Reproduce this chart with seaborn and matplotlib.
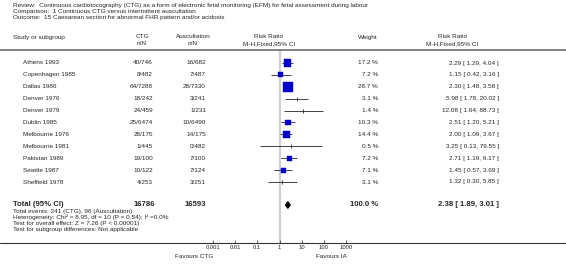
import numpy as np
import pandas as pd
import matplotlib
matplotlib.use("Agg")
import matplotlib.pyplot as plt
import seaborn as sns

# --- DATA ---
studies = ["Athens 1993", "Copenhagen 1985", "Dallas 1986", "Denver 1976", "Denver 1979",
           "Dublin 1985", "Melbourne 1976", "Melbourne 1981", "Pakistan 1989",
           "Seattle 1987", "Sheffield 1978"]
ctg_events = [40, 8, 64, 18, 24, 25, 28, 1, 19, 10, 4]
ctg_total = [746, 482, 7288, 242, 459, 6474, 175, 445, 100, 122, 253]
ia_events = [16, 7, 28, 3, 1, 10, 14, 0, 7, 7, 3]
ia_total = [682, 487, 7330, 241, 231, 6490, 175, 482, 100, 124, 251]
weights = [17.2, 7.2, 28.7, 3.1, 1.4, 10.3, 14.4, 0.5, 7.2, 7.1, 3.1]
rr = [2.29, 1.15, 2.30, 5.98, 12.08, 2.51, 2.00, 3.25, 2.71, 1.45, 1.32]
rr_lo = [1.29, 0.42, 1.48, 1.78, 1.64, 1.20, 1.09, 0.13, 1.19, 0.57, 0.30]
rr_hi = [4.04, 3.16, 3.58, 20.02, 88.73, 5.21, 3.67, 79.55, 6.17, 3.69, 5.85]

total_ctg, total_ia = 16786, 16593
total_rr, total_lo, total_hi = 2.38, 1.89, 3.01
total_weight = 100.0

tick_vals = [0.001, 0.01, 0.1, 1, 10, 100, 1000]
tick_labels = ["0.001", "0.01", "0.1", "1", "10", "100", "1000"]

header_lines = [
    "Review:  Continuous cardiotocography (CTG) as a form of electronic fetal monitoring (EFM) for fetal assessment during labour",
    "Comparison:  1 Continuous CTG versus intermittent auscultation",
    "Outcome:  15 Caesarean section for abnormal FHR pattern and/or acidosis",
]
footer_lines = [
    "Total events: 241 (CTG), 96 (Auscultation)",
    "Heterogeneity: Chi\u00b2 = 8.95, df = 10 (P = 0.54); I\u00b2 =0.0%",
    "Test for overall effect: Z = 7.26 (P < 0.00001)",
    "Test for subgroup differences: Not applicable",
]

# --- LAYOUT (pixels) ---
W, H = 566, 265
ROW0, STEP = 63, 11.9
Y_TOTAL = 205
Y_AXIS = 243
FS = 4.6

sns.set_style("white")
plt.rcParams["font.family"] = ["Liberation Sans", "DejaVu Sans"]

fig = plt.figure(figsize=(W / 100, H / 100), dpi=100)
ax = fig.add_axes([0, 0, 1, 1])
ax.set_xlim(0, W)
ax.set_ylim(H, 0)
ax.axis("off")

# header block
for i, line in enumerate(header_lines):
    ax.text(13, 5 + i * 6, line, fontsize=FS, va="center", ha="left")

ax.text(13, 38, "Study or subgroup", fontsize=FS, va="center")
ax.text(142, 37, "CTG", fontsize=FS, va="center", ha="center")
ax.text(142, 43.5, "n/N", fontsize=FS, va="center", ha="center")
ax.text(193, 37, "Auscultation", fontsize=FS, va="center", ha="center")
ax.text(193, 43.5, "n/N", fontsize=FS, va="center", ha="center")
ax.text(269, 37, "Risk Ratio", fontsize=FS, va="center", ha="center")
ax.text(269, 43.5, "M-H,Fixed,95% CI", fontsize=FS, va="center", ha="center")
ax.text(368, 37, "Weight", fontsize=FS, va="center", ha="center")
ax.text(452, 37, "Risk Ratio", fontsize=FS, va="center", ha="center")
ax.text(452, 43.5, "M-H,Fixed,95% CI", fontsize=FS, va="center", ha="center")
ax.plot([0, W], [50, 50], color="#777777", lw=1.3)

# study rows
for i, name in enumerate(studies):
    y = ROW0 + i * STEP
    ax.text(23, y, name, fontsize=FS, va="center")
    ax.text(153, y, f"{ctg_events[i]}/{ctg_total[i]}", fontsize=FS, va="center", ha="right")
    ax.text(206, y, f"{ia_events[i]}/{ia_total[i]}", fontsize=FS, va="center", ha="right")
    ax.text(378, y, f"{weights[i]:.1f} %", fontsize=FS, va="center", ha="right")
    ax.text(499, y, f"{rr[i]:.2f} [ {rr_lo[i]:.2f}, {rr_hi[i]:.2f} ]",
            fontsize=FS, va="center", ha="right")

# total row
ax.text(13, Y_TOTAL, "Total (95% CI)", fontsize=5.6, fontweight="bold", va="center")
ax.text(155, Y_TOTAL, f"{total_ctg}", fontsize=5.6, fontweight="bold", va="center", ha="right")
ax.text(206, Y_TOTAL, f"{total_ia}", fontsize=5.6, fontweight="bold", va="center", ha="right")
ax.text(378, Y_TOTAL, f"{total_weight:.1f} %", fontsize=5.6, fontweight="bold", va="center", ha="right")
ax.text(499, Y_TOTAL, f"{total_rr:.2f} [ {total_lo:.2f}, {total_hi:.2f} ]",
        fontsize=5.6, fontweight="bold", va="center", ha="right")
for i, line in enumerate(footer_lines):
    ax.text(13, 211.5 + i * 6, line, fontsize=FS, va="center")

ax.plot([0, W], [Y_AXIS, Y_AXIS], color="#333333", lw=0.8)
ax.text(213, 256.5, "Favours CTG", fontsize=FS, va="center", ha="right")
ax.text(347, 256.5, "Favours IA", fontsize=FS, va="center", ha="right")

# --- FOREST PANEL ---
x0, x1 = 213, 346
fax = fig.add_axes([x0 / W, (H - Y_AXIS) / H, (x1 - x0) / W, (Y_AXIS - 51) / H])
fax.patch.set_alpha(0)
fax.set_xscale("log")
fax.set_xlim(0.001, 1000)
fax.set_ylim(Y_AXIS, 51)
for s in fax.spines.values():
    s.set_visible(False)

fax.axvline(1, color="#d0d0d0", lw=1.6, zorder=0)

df = pd.DataFrame({"study": studies, "rr": rr, "lo": rr_lo, "hi": rr_hi, "weight": weights})
df["y"] = ROW0 + np.arange(len(df)) * STEP

fax.hlines(df["y"], df["lo"], df["hi"], color="#222222", lw=0.6, zorder=2)

big = df[df["weight"] >= 5]
small = df[df["weight"] < 5]
sns.scatterplot(data=big, x="rr", y="y", size="weight", sizes=(0, 52), size_norm=(0, 28.7),
                marker="s", color="#0000cc", edgecolor="#0000cc", linewidth=0.3,
                legend=False, ax=fax, zorder=3)
sns.scatterplot(data=small, x="rr", y="y", marker="|", color="#222222", s=10,
                linewidth=0.6, legend=False, ax=fax, zorder=3)

# pooled diamond
dh = 3.2
fax.fill([total_lo, total_rr, total_hi, total_rr],
         [Y_TOTAL, Y_TOTAL - dh, Y_TOTAL, Y_TOTAL + dh], color="black", zorder=3)

fax.set_xticks(tick_vals)
fax.set_xticklabels(tick_labels)
fax.minorticks_off()
fax.tick_params(axis="x", direction="in", length=2, width=0.5, pad=1.5,
                labelsize=4.2, bottom=True)
fax.set_yticks([])
fax.set_xlabel("")
fax.set_ylabel("")

fig.savefig("out.png", dpi=100)
